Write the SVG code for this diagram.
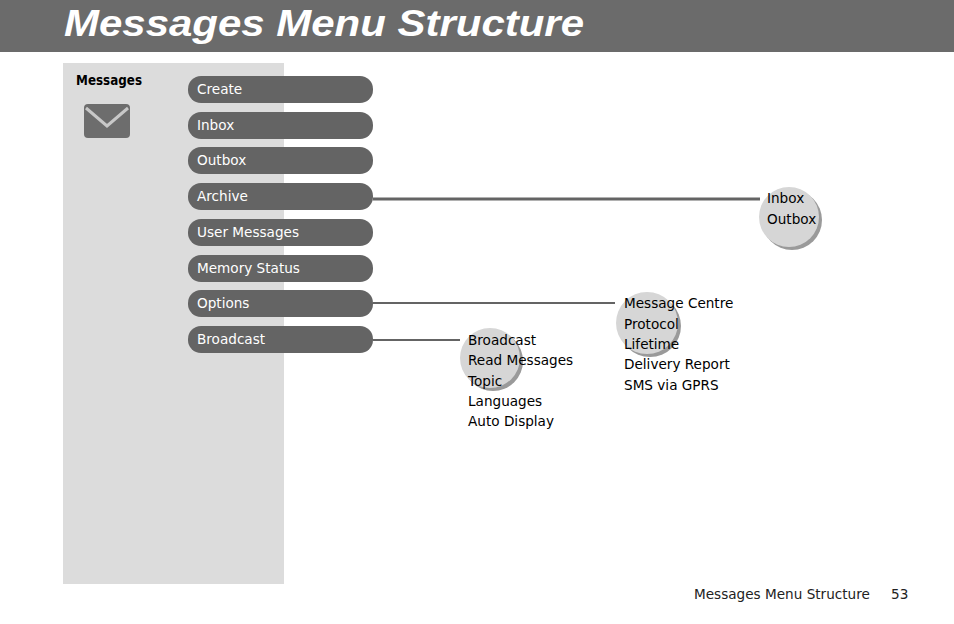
<svg xmlns="http://www.w3.org/2000/svg" width="954" height="624" viewBox="0 0 954 624">
<style>
.btn rect{fill:#646464}
.btn text{fill:#fff;font-family:"DejaVu Sans",sans-serif;font-size:13.6px}
.t{font-family:"DejaVu Sans",sans-serif;font-size:13.6px;fill:#000}
.bub{fill:#d6d6d6}
.sh{fill:#9a9a9a}
</style>
<rect x="0" y="0" width="954" height="52" fill="#6b6b6b"/>
<text x="64" y="36" fill="#fff" font-family="Liberation Sans,sans-serif" font-size="36" font-weight="bold" font-style="italic" textLength="520" lengthAdjust="spacingAndGlyphs">Messages Menu Structure</text>
<rect x="63" y="63" width="221" height="521" fill="#dcdcdc"/>
<text x="76" y="85" class="t" font-weight="bold" textLength="66" lengthAdjust="spacingAndGlyphs">Messages</text>
<g id="icon"><rect x="84" y="104" width="46" height="34" rx="4" fill="#6d6d6d"/><path d="M86 108 L107 126 L128 108" stroke="#c8c8c8" stroke-width="3" fill="none"/></g>
<g id="connectors" stroke="#646464" fill="none">
<line x1="373" y1="199" x2="760" y2="199" stroke-width="3"/>
<line x1="373" y1="303" x2="615" y2="303" stroke-width="2"/>
<line x1="373" y1="340" x2="460" y2="340" stroke-width="2"/>
</g>
<g id="create" class="btn"><rect x="188" y="76" width="185" height="27" rx="13"/><text x="197" y="94">Create</text></g>
<g id="inbox" class="btn"><rect x="188" y="112" width="185" height="27" rx="13"/><text x="197" y="130">Inbox</text></g>
<g id="outbox" class="btn"><rect x="188" y="147" width="185" height="27" rx="13"/><text x="197" y="165">Outbox</text></g>
<g id="archive" class="btn"><rect x="188" y="183" width="185" height="27" rx="13"/><text x="197" y="201">Archive</text></g>
<g id="user" class="btn"><rect x="188" y="219" width="185" height="27" rx="13"/><text x="197" y="237">User Messages</text></g>
<g id="memory" class="btn"><rect x="188" y="255" width="185" height="27" rx="13"/><text x="197" y="273">Memory Status</text></g>
<g id="options" class="btn"><rect x="188" y="290" width="185" height="27" rx="13"/><text x="197" y="308">Options</text></g>
<g id="broadcast" class="btn"><rect x="188" y="326" width="185" height="27" rx="13"/><text x="197" y="344">Broadcast</text></g>
<g id="archive-sub"><circle cx="792" cy="220" r="30" class="sh"/><circle cx="789" cy="217" r="30" class="bub"/>
<text class="t" x="767" y="203">Inbox</text><text class="t" x="767" y="224">Outbox</text></g>
<g id="options-sub"><circle cx="650" cy="326" r="31" class="sh"/><circle cx="647" cy="323" r="31" class="bub"/>
<text class="t" x="624" y="308">Message Centre</text><text class="t" x="624" y="329">Protocol</text><text class="t" x="624" y="349">Lifetime</text><text class="t" x="624" y="369">Delivery Report</text><text class="t" x="624" y="390">SMS via GPRS</text></g>
<g id="broadcast-sub"><circle cx="493" cy="361" r="30" class="sh"/><circle cx="490" cy="358" r="30" class="bub"/>
<text class="t" x="468" y="345">Broadcast</text><text class="t" x="468" y="365">Read Messages</text><text class="t" x="468" y="386">Topic</text><text class="t" x="468" y="406">Languages</text><text class="t" x="468" y="426">Auto Display</text></g>
<text x="694" y="599" font-family="DejaVu Sans,sans-serif" font-size="13.6" fill="#222">Messages Menu Structure</text>
<text x="891" y="599" font-family="DejaVu Sans,sans-serif" font-size="13.6" fill="#222">53</text>
</svg>
